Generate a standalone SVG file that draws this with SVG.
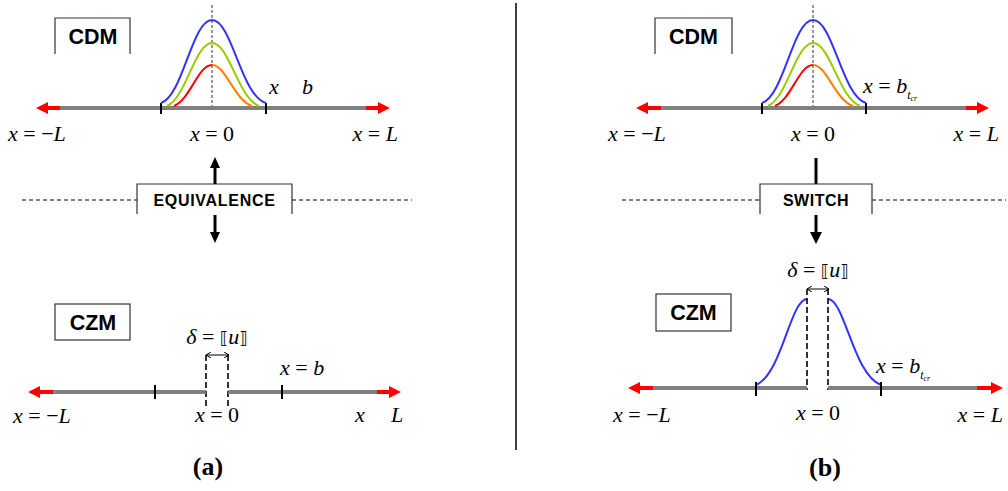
<svg xmlns="http://www.w3.org/2000/svg" width="1008" height="491" viewBox="0 0 1008 491">
<defs>
<style>
.box{fill:none;stroke:#333;stroke-width:1.2}
.lbl{font-family:"Liberation Sans",Arial,sans-serif;font-weight:bold;fill:#000;text-anchor:middle}
.m{font-family:"Liberation Serif","Times New Roman",serif;font-size:22px;fill:#000}
.i{font-style:italic}
.br{font-family:"DejaVu Serif","DejaVu Sans",serif;font-size:17px;font-style:normal}
.axis{stroke:#808080;stroke-width:4;fill:none}
.red{stroke:#ff0000;stroke-width:4;fill:none}
.redh{fill:#ff0000}
.tick{stroke:#000;stroke-width:2}
.dash{stroke:#333;stroke-width:1;stroke-dasharray:3,2;fill:none}
.dashb{stroke:#000;stroke-width:1.6;stroke-dasharray:6,3;fill:none}
.hd{stroke:#000;stroke-width:1;stroke-dasharray:4,3;fill:none}
.blue{stroke:#3333ff;stroke-width:2;fill:none}
.green{stroke:#99cc00;stroke-width:2;fill:none}
.rc{stroke:#ff0000;stroke-width:2;fill:none}
.oc{stroke:#ff7f00;stroke-width:2;fill:none}
.arr{stroke:#000;stroke-width:3;fill:none}
.thin{stroke:#000;stroke-width:1;fill:none}
.cap{font-family:"Liberation Serif","Times New Roman",serif;font-weight:bold;font-size:26px;text-anchor:middle;fill:#000}
</style>
<marker id="ahs" markerWidth="5" markerHeight="6" refX="5" refY="3" orient="auto-start-reverse" markerUnits="userSpaceOnUse" viewBox="0 0 5 6"><path d="M0,0 L5,3 L0,6" fill="none" stroke="#000" stroke-width="1"/></marker>
</defs>
<rect width="1008" height="491" fill="#fff"/>

<!-- divider -->
<line x1="516" y1="3" x2="516" y2="450" stroke="#000" stroke-width="1.5"/>

<!-- LEFT PANEL -->
<g id="cdm-a">
<path class="box" d="M55,54 V18 H130 V54"/>
<text class="lbl" x="93" y="44" font-size="21.5">CDM</text>
</g>
<g id="axis-cdm-a">
<line class="dash" x1="212" y1="5" x2="212" y2="108"/>
<line class="axis" x1="60" y1="108" x2="367" y2="108"/>
<line class="red" x1="60" y1="108" x2="46" y2="108"/>
<path class="redh" d="M36,108 L48,102 L48,114 Z"/>
<line class="red" x1="366" y1="108" x2="380" y2="108"/>
<path class="redh" d="M390,108 L378,102 L378,114 Z"/>
<line class="tick" x1="161" y1="103" x2="161" y2="114"/>
<line class="tick" x1="266" y1="103" x2="266" y2="114"/>
<path class="blue" d="M161,103 C183,96 192,20 212,20 C232,20 241,96 266,103"/>
<path class="green" d="M167,106 C186,98 195,43 212,43 C229,43 238,98 259,106"/>
<path class="rc" d="M174,106 C190,100 198,65 212,65"/>
<path class="oc" d="M212,65 C226,65 234,100 252,106"/>
<text class="m i" x="269" y="94" font-size="20">x</text>
<text class="m i" x="302" y="94" font-size="20">b</text>
<text class="m" x="8" y="141"><tspan class="i">x</tspan> = −<tspan class="i">L</tspan></text>
<text class="m" x="212" y="141" text-anchor="middle"><tspan class="i">x</tspan> = 0</text>
<text class="m" x="398" y="141" text-anchor="end"><tspan class="i">x</tspan> = <tspan class="i">L</tspan></text>
</g>

<g id="equivalence">
<line class="hd" x1="22" y1="200" x2="137" y2="200"/>
<line class="hd" x1="292" y1="200" x2="412" y2="200"/>
<path class="box" d="M137,214 V184 H292 V214"/>
<text class="lbl" x="214.5" y="205.5" font-size="16" letter-spacing="0.7">EQUIVALENCE</text>
</g>

<g id="connectors">
<line class="arr" x1="215" y1="184" x2="215" y2="167"/>
<path d="M215,157 L210,168 L220,168 Z" fill="#000"/>
<line class="arr" x1="215" y1="215" x2="215" y2="233"/>
<path d="M215,243 L210,232 L220,232 Z" fill="#000"/>
<line class="arr" x1="816" y1="158" x2="816" y2="184"/>
<line class="arr" x1="816" y1="215" x2="816" y2="233"/>
<path d="M816,244 L810,232 L822,232 Z" fill="#000"/>
</g>

<g id="czm-a">
<rect class="box" x="55" y="304" width="75" height="36"/>
<text class="lbl" x="93" y="330" font-size="21.5">CZM</text>
</g>
<g id="axis-czm-a">
<text class="m" x="217" y="344" font-size="17" text-anchor="middle"><tspan class="i">δ</tspan> = <tspan class="br">⟦</tspan><tspan class="i">u</tspan><tspan class="br">⟧</tspan></text>
<line class="thin" x1="206" y1="355" x2="229" y2="355" marker-end="url(#ahs)" marker-start="url(#ahs)"/>
<line class="dashb" x1="206" y1="355" x2="206" y2="407"/>
<line class="dashb" x1="228" y1="355" x2="228" y2="407"/>
<line class="axis" x1="52" y1="392" x2="206" y2="392"/>
<line class="axis" x1="228" y1="392" x2="378" y2="392"/>
<line class="red" x1="53" y1="392" x2="38" y2="392"/>
<path class="redh" d="M28,392 L40,386 L40,398 Z"/>
<line class="red" x1="377" y1="392" x2="391" y2="392"/>
<path class="redh" d="M401,392 L389,386 L389,398 Z"/>
<line class="tick" x1="155" y1="385" x2="155" y2="399"/>
<line class="tick" x1="282" y1="385" x2="282" y2="399"/>
<text class="m" x="280" y="375"><tspan class="i">x</tspan> = <tspan class="i">b</tspan></text>
<text class="m" x="13" y="423"><tspan class="i">x</tspan> = −<tspan class="i">L</tspan></text>
<text class="m" x="217" y="422" text-anchor="middle"><tspan class="i">x</tspan> = 0</text>
<text class="m i" x="355" y="422">x</text>
<text class="m i" x="391" y="422">L</text>
</g>
<text class="cap" x="208" y="475">(a)</text>

<!-- RIGHT PANEL -->
<g id="cdm-b">
<path class="box" d="M655,54 V18 H732 V54"/>
<text class="lbl" x="693.5" y="44" font-size="21.5">CDM</text>
</g>
<g id="axis-cdm-b">
<line class="dash" x1="813" y1="5" x2="813" y2="108"/>
<line class="axis" x1="660" y1="108" x2="968" y2="108"/>
<line class="red" x1="661" y1="108" x2="646" y2="108"/>
<path class="redh" d="M636,108 L648,102 L648,114 Z"/>
<line class="red" x1="966" y1="108" x2="979" y2="108"/>
<path class="redh" d="M989,108 L977,102 L977,114 Z"/>
<line class="tick" x1="762" y1="103" x2="762" y2="114"/>
<line class="tick" x1="866" y1="103" x2="866" y2="114"/>
<path class="blue" d="M762,103 C784,96 793,20 813,20 C833,20 842,96 866,103"/>
<path class="green" d="M768,106 C787,98 796,43 813,43 C830,43 839,98 860,106"/>
<path class="rc" d="M775,106 C791,100 799,65 813,65"/>
<path class="oc" d="M813,65 C827,65 835,100 853,106"/>
<text class="m" x="863" y="93" font-size="20"><tspan class="i">x</tspan> = <tspan class="i">b</tspan><tspan class="i" font-size="12" dy="6">t</tspan><tspan class="i" font-size="8" dy="2">cr</tspan></text>
<text class="m" x="608" y="141"><tspan class="i">x</tspan> = −<tspan class="i">L</tspan></text>
<text class="m" x="813" y="141" text-anchor="middle"><tspan class="i">x</tspan> = 0</text>
<text class="m" x="999" y="141" text-anchor="end"><tspan class="i">x</tspan> = <tspan class="i">L</tspan></text>
</g>

<g id="switch">
<line class="hd" x1="622" y1="200" x2="760" y2="200"/>
<line class="hd" x1="872" y1="200" x2="1006" y2="200"/>
<path class="box" d="M760,214 V184 H872 V214"/>
<text class="lbl" x="816" y="205.5" font-size="16" letter-spacing="0.5">SWITCH</text>
</g>

<g id="czm-b">
<rect class="box" x="656" y="294" width="75" height="37"/>
<text class="lbl" x="693.5" y="320" font-size="21.5">CZM</text>
</g>
<g id="axis-czm-b">
<text class="m" x="818" y="277" font-size="17" text-anchor="middle"><tspan class="i">δ</tspan> = <tspan class="br">⟦</tspan><tspan class="i">u</tspan><tspan class="br">⟧</tspan></text>
<line class="thin" x1="807" y1="289" x2="829" y2="289" marker-end="url(#ahs)" marker-start="url(#ahs)"/>
<path class="blue" d="M756,385 C782,374 790,300 807,299"/>
<path class="blue" d="M828,299 C845,300 853,374 881,385"/>
<line class="dashb" x1="807" y1="289" x2="807" y2="390"/>
<line class="dashb" x1="828" y1="289" x2="828" y2="390"/>
<line class="axis" x1="652" y1="388" x2="807" y2="388"/>
<line class="axis" x1="828" y1="388" x2="979" y2="388"/>
<line class="red" x1="653" y1="388" x2="638" y2="388"/>
<path class="redh" d="M628,388 L640,382 L640,394 Z"/>
<line class="red" x1="977" y1="388" x2="993" y2="388"/>
<path class="redh" d="M1003,388 L991,382 L991,394 Z"/>
<line class="tick" x1="756" y1="382" x2="756" y2="396"/>
<line class="tick" x1="881" y1="382" x2="881" y2="396"/>
<text class="m" x="876" y="373" font-size="21"><tspan class="i">x</tspan> = <tspan class="i">b</tspan><tspan class="i" font-size="12" dy="6">t</tspan><tspan class="i" font-size="8" dy="2">cr</tspan></text>
<text class="m" x="613" y="422"><tspan class="i">x</tspan> = −<tspan class="i">L</tspan></text>
<text class="m" x="818" y="420" text-anchor="middle"><tspan class="i">x</tspan> = 0</text>
<text class="m" x="1003" y="422" text-anchor="end"><tspan class="i">x</tspan> = <tspan class="i">L</tspan></text>
</g>
<text class="cap" x="825" y="476">(b)</text>
</svg>
